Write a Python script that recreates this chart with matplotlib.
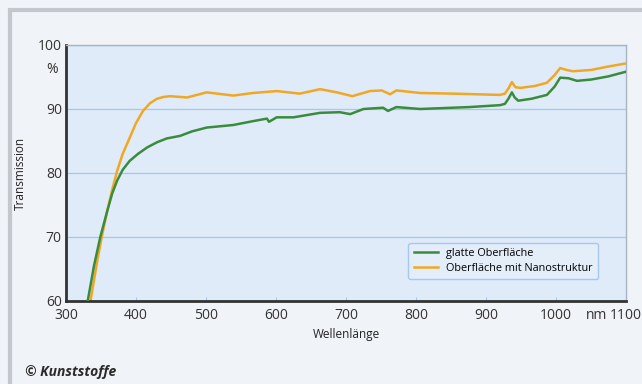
import numpy as np
import matplotlib.pyplot as plt
from matplotlib.patches import Rectangle

plt.rcParams['font.family'] = ['Open Sans', 'DejaVu Sans']

# glatte Oberflaeche (green)
wl_glatt = [331, 340, 349, 359, 366, 373, 381, 391, 403, 416, 430, 444, 463, 480, 501,
            520, 539, 567, 587, 590, 601, 625, 663, 691, 706, 725, 753, 760, 772, 806,
            829, 876, 920, 927, 932, 937, 941, 946, 965, 987, 998, 1006, 1018, 1030,
            1050, 1075, 1099]
t_glatt = [60.0, 65.5, 70.0, 74.1, 76.8, 78.8, 80.5, 81.9, 83.0, 84.0, 84.8, 85.4, 85.8,
           86.5, 87.1, 87.3, 87.5, 88.1, 88.5, 88.0, 88.7, 88.7, 89.4, 89.5, 89.2, 90.0,
           90.2, 89.7, 90.3, 90.0, 90.1, 90.3, 90.6, 90.8, 91.6, 92.6, 91.8, 91.3, 91.6,
           92.2, 93.5, 94.9, 94.8, 94.4, 94.6, 95.1, 95.8]

# Oberflaeche mit Nanostruktur (orange)
wl_nano = [335, 345, 352, 359, 366, 373, 381, 391, 400, 410, 420, 430, 440, 449, 473,
           501, 539, 567, 601, 634, 663, 687, 709, 734, 751, 763, 772, 806, 853, 920,
           927, 932, 937, 942, 949, 970, 987, 998, 1006, 1015, 1024, 1050, 1073, 1099]
t_nano = [60.0, 66.5, 70.5, 74.1, 77.4, 80.3, 83.0, 85.5, 87.8, 89.7, 90.9, 91.6, 91.9,
          92.0, 91.8, 92.6, 92.1, 92.5, 92.8, 92.4, 93.1, 92.6, 92.0, 92.8, 92.9, 92.3,
          92.9, 92.5, 92.4, 92.2, 92.4, 93.2, 94.2, 93.4, 93.3, 93.6, 94.1, 95.3, 96.4,
          96.1, 95.9, 96.1, 96.6, 97.1]

xticks = [300, 400, 500, 600, 700, 800, 900, 1000, 1100]
yticks = [60, 70, 80, 90, 100]

fig = plt.figure(figsize=(6.42, 3.84), dpi=100)
fig.patch.set_facecolor('#f0f3f7')
# outer frame
fig.patches.append(Rectangle((10 / 642, -0.1), 1.2, 1 - 10 / 384 + 0.1, transform=fig.transFigure,
                             fill=False, edgecolor='#c4c8ce', linewidth=3))

ax = fig.add_axes([66 / 642, 1 - 301 / 384, 560 / 642, 256 / 384])
ax.set_facecolor('#dfebf8')
ax.plot(wl_glatt, t_glatt, color='#3a8c3c', lw=1.8, label='glatte Oberfläche', zorder=3)
ax.plot(wl_nano, t_nano, color='#f0a824', lw=1.8, label='Oberfläche mit Nanostruktur', zorder=2)

ax.set_xlim(300, 1100)
ax.set_ylim(60, 100)
ax.set_xticks(xticks)
ax.set_yticks(yticks)
ax.set_yticklabels([str(v) for v in yticks])
ax.set_xticklabels([str(v) for v in xticks])
ax.grid(axis='y', color='#a6c8f0', lw=0.9)
ax.tick_params(axis='both', labelsize=10, colors='#333333', length=0, pad=3)
ax.tick_params(axis='x', direction='in', length=3, color='#a6c8f0', pad=5)
for s in ['left', 'bottom']:
    ax.spines[s].set_color('#333333')
    ax.spines[s].set_linewidth(2)
for s in ['top', 'right']:
    ax.spines[s].set_color('#a8b4c2')
    ax.spines[s].set_linewidth(1)

ax.text(-0.015, 96.2, '%', transform=ax.get_yaxis_transform(), ha='right', va='center',
        fontsize=10, color='#333333')
ax.annotate('nm', xy=(1058, 0), xycoords=('data', 'axes fraction'), xytext=(0, -5),
            textcoords='offset points', ha='center', va='top', fontsize=10, color='#333333')
ax.set_ylabel('Transmission', fontsize=8.5, color='#222222')
ax.yaxis.set_label_coords(-0.07, 0.5)
ax.set_xlabel('Wellenlänge', fontsize=8.5, color='#222222')
ax.xaxis.set_label_coords(0.5, -0.105)

leg = ax.legend(loc='lower right', bbox_to_anchor=(0.96, 0.065), fontsize=7.8, frameon=True,
                fancybox=True, handlelength=2.2, borderpad=0.5, labelspacing=0.3)
leg.get_frame().set_facecolor('#e4eef9')
leg.get_frame().set_edgecolor('#a6c8f0')
leg.get_frame().set_alpha(1)

fig.text(25 / 642, 1 - 372 / 384, '© Kunststoffe', fontsize=10, fontweight='bold',
         fontstyle='italic', color='#2a2a2a', va='center')

fig.savefig('out.png', dpi=100, facecolor=fig.get_facecolor())
